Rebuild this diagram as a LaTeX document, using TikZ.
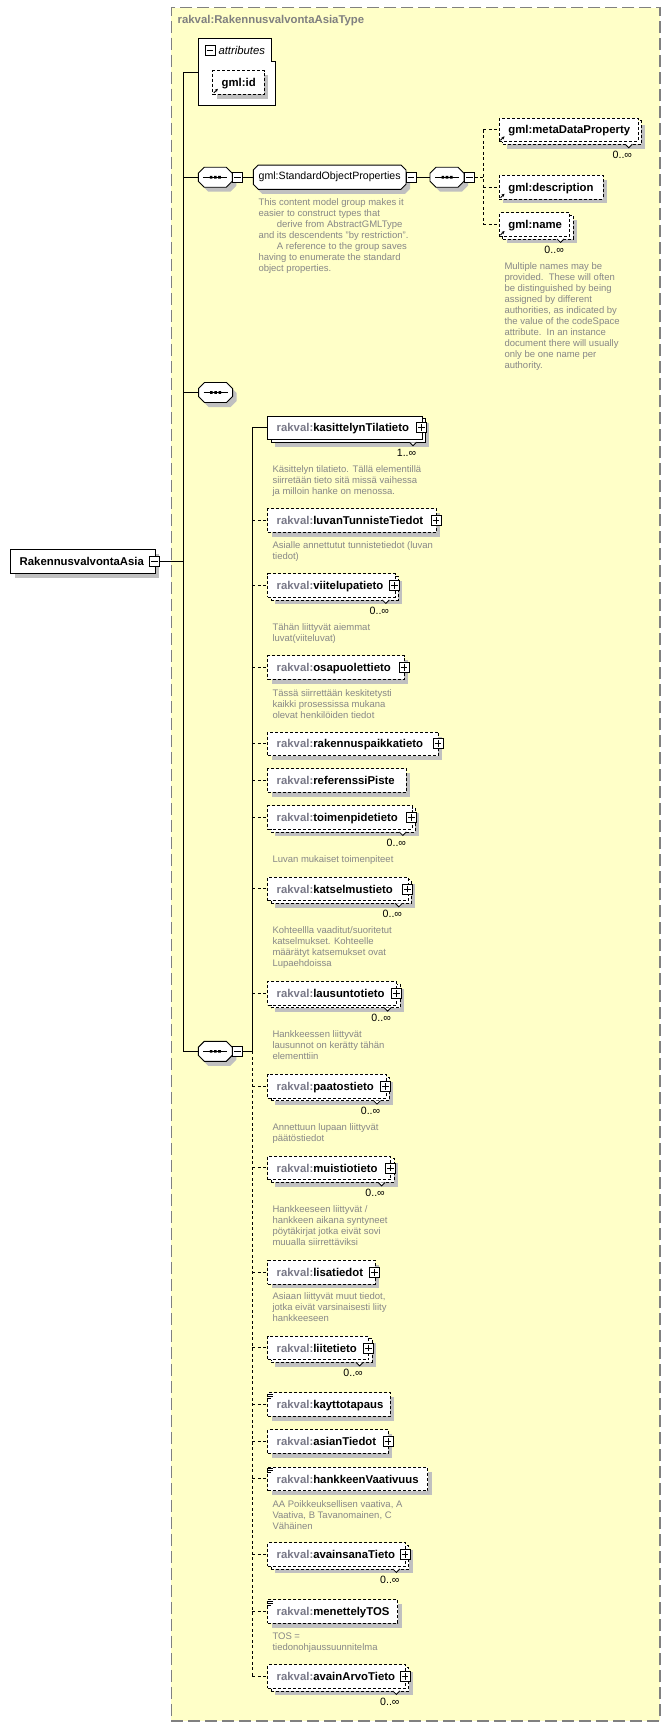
\documentclass[tikz,border=0pt]{standalone}
\usepackage{fontspec}
\setmainfont{Liberation Sans}
\usetikzlibrary{shadows,arrows.meta}
\definecolor{ybg}{RGB}{255,255,200}
\definecolor{bordg}{RGB}{128,128,128}
\definecolor{pfx}{RGB}{120,120,135}
\definecolor{anng}{RGB}{135,135,135}
\definecolor{shadowc}{RGB}{192,192,192}
\newcommand\elfont{\fontsize{11.35}{13}\selectfont\bfseries}
\newcommand\annfont{\fontsize{9.5}{11}\selectfont}
\newcommand\rk{\textcolor{pfx}{rakval:}}
\tikzset{
 box/.style={draw=black, line width=0.9pt, fill=white, inner sep=0pt, minimum height=23.5pt, anchor=west},
 req/.style={solid},
 opt/.style={dash pattern=on 3pt off 2pt},
 shd/.style={general shadow={fill=shadowc, shadow xshift=4pt, shadow yshift=-4.5pt}},
 eltext/.style={anchor=base west, inner sep=0pt, font=\elfont},
 multt/.style={anchor=base east, inner sep=0pt, font=\fontsize{10.6}{12}\selectfont},
 ann/.style={anchor=north west, inner sep=0pt, align=left, font=\annfont, text=anng},
 pmbox/.style={draw=black, fill=white, line width=0.8pt, minimum size=10pt, inner sep=0pt},
 pmline/.style={line width=0.8pt},
 conn/.style={line width=0.9pt},
 cdash/.style={dash pattern=on 3pt off 2.5pt},
 anch/.style={draw=none, inner sep=0pt},
}
\newcommand\elem[6]{%
 \node[box,shd,#5,minimum width={#4-#2}] (#1) at (#2,#3) {};
 \node[eltext] (#1-t) at (#2+9.2,#3+4.1) {#6};}
\newcommand\melem[7]{%
 \node[box,shd,#5,minimum width={#4-#2}] (#1-b) at (#2+3.3,#3+2.7) {};
 \draw[line width=0.8pt,fill=white] (#4-12.2,#3+14.45) -- ++(3.5,3.5) -- ++(3.5,-3.5);
 \node[box,#5,minimum width={#4-#2}] (#1) at (#2,#3) {};
 \node[eltext] (#1-t) at (#2+9.2,#3+4.1) {#6};
 \node[multt] (#1-m) at (#4-5.3,#3+28.5) {#7};}
\newcommand\plusb[3]{\node[pmbox] (#1) at (#2,#3) {};
 \draw[pmline] ([xshift=2pt]#1.west) -- ([xshift=-2pt]#1.east) ([yshift=-2pt]#1.north) -- ([yshift=2pt]#1.south);}
\newcommand\minusb[3]{\node[pmbox] (#1) at (#2,#3) {};
 \draw[pmline] ([xshift=2pt]#1.west) -- ([xshift=-2pt]#1.east);}
\newcommand\ann[4]{\node[ann] (#1) at (#2,#3-3.7) {\rule{0pt}{7.2pt}#4};}
\newcommand\simpico[2]{\draw[line width=0.8pt] (#1,#2+1.2) -- ++(5.5,0) (#1,#2+3.2) -- ++(5.5,0) (#1,#2+5.2) -- ++(4,0);}
\newcommand\refarr[2]{\draw[line width=0.9pt,-{Stealth[length=3pt,width=3pt]}] (#1+1.5,#2-1.2) -- (#1+5.5,#2-5.2);}
\newcommand\octdraw[6]{\path[#6] (#1-#3+#5,#2-#4) -- (#1+#3-#5,#2-#4) -- (#1+#3,#2-#4+#5) -- (#1+#3,#2+#4-#5) -- (#1+#3-#5,#2+#4) -- (#1-#3+#5,#2+#4) -- (#1-#3,#2+#4-#5) -- (#1-#3,#2-#4+#5) -- cycle;}
\newcommand\seqn[3]{%
 \octdraw{#2}{#3}{17}{10}{6}{fill=shadowc, shift={(4,4.5)}}%
 \octdraw{#2}{#3}{17}{10}{6}{draw, fill=white, line width=0.9pt}%
 \node[anch, minimum width=34pt, minimum height=20pt] (#1) at (#2,#3) {};%
 \draw[line width=0.9pt] (#2-12,#3) -- (#2+12,#3);%
 \fill (#2-5.5,#3-1.3) rectangle ++(2.6,2.6) (#2-1.3,#3-1.3) rectangle ++(2.6,2.6) (#2+2.9,#3-1.3) rectangle ++(2.6,2.6);}
\begin{document}
\begin{tikzpicture}[x=1pt,y=-1pt]
\fill[white] (0,0) rectangle (669,1726);
\useasboundingbox (0,0) rectangle (669,1726);
\node[draw=bordg, fill=ybg, line width=1.5pt, dash pattern=on 12pt off 5pt, minimum width=488.5pt, minimum height=1713pt, anchor=north west, inner sep=0pt] (ctype) at (170.5,7) {};
\node[anchor=base west, inner sep=0pt, font=\elfont, text=bordg] (ttl) at (177.5,24) {rakval:RakennusvalvontaAsiaType};
% attributes
\node[anch, minimum width=77pt, minimum height=66.7pt, anchor=north west] (attrs) at (198.3,38.3) {};
\draw[line width=0.9pt, fill=white] (198.3,38.3) -- (271.7,38.3) -- (271.7,61.7) -- (275.3,61.7) -- (275.3,105) -- (198.3,105) -- cycle;
\minusb{attrs-m}{210}{50.7}
\node[anchor=base west, inner sep=0pt, font=\fontsize{11.3}{13}\selectfont\itshape] (attrs-t) at (218.3,54.5) {attributes};
\elem{gid}{212.3}{82.3}{264}{opt}{gml:id}
\refarr{212.3}{94.05}
% main line
\coordinate (mtop) at (183.3,72.7);
\coordinate (mbot) at (183.3,1051.3);
\draw[conn] (mtop) -- (mbot);
\draw[conn] (mtop) -- (mtop -| attrs.west);
% seq1 and group
\seqn{seq1}{215.3}{177.2}
\minusb{seq1-m}{237.5}{177.2}
\draw[conn] (mbot |- seq1.west) -- (seq1.west);
\octdraw{329.65}{177.2}{76.35}{12.15}{5}{fill=shadowc, shift={(4,4.5)}}
\octdraw{329.65}{177.2}{76.35}{12.15}{5}{draw, fill=white, line width=0.9pt}
\node[anch, minimum width=152.7pt, minimum height=24.3pt, font=\fontsize{10.6}{12}\selectfont] (sop) at (329.65,177.2) {gml:StandardObjectProperties};
\minusb{sop-m}{411}{177.2}
\draw[conn] (seq1-m.east) -- (sop.west);
\seqn{seq2}{447}{177.2}
\minusb{seq2-m}{469.5}{177.2}
\draw[conn] (sop-m.east) -- (seq2.west);
% gml children
\coordinate (gvtop) at (483.3,129.8);
\coordinate (gvbot) at (483.3,224.5);
\draw[conn,cdash] (gvtop) -- (gvbot);
\draw[conn,cdash] (seq2-m.east) -- (seq2-m.east -| gvtop);
\melem{meta}{499}{129.8}{637.5}{opt}{gml:metaDataProperty}{0..∞}
\refarr{499}{141.55}
\elem{desc}{499}{187.2}{602.5}{opt}{gml:description}
\refarr{499}{198.95}
\melem{gname}{499}{224.5}{569.3}{opt}{gml:name}{0..∞}
\refarr{499}{236.25}
\draw[conn,cdash] (gvtop) -- (meta.west);
\draw[conn,cdash] (gvtop |- desc.west) -- (desc.west);
\draw[conn,cdash] (gvbot) -- (gname.west);
\ann{sop-a}{258.3}{201.7}{This content model group makes it\\easier to construct types that\\\hspace*{18.4pt}derive from AbstractGMLType\\and its descendents "by restriction".\\\hspace*{18.4pt}A reference to the group saves\\having to enumerate the standard\\object properties.}
\ann{gname-a}{504.3}{266}{Multiple names may be\\provided.\ \ These will often\\be distinguished by being\\assigned by different\\authorities, as indicated by\\the value of the codeSpace\\attribute.\ \ In an instance\\document there will usually\\only be one name per\\authority.}
% seq3
\seqn{seq3}{215.6}{392.5}
\draw[conn] (mbot |- seq3.west) -- (seq3.west);
% root
\elem{root}{10.3}{561.3}{155}{req}{RakennusvalvontaAsia}
\minusb{root-m}{154.5}{561.3}
\draw[conn] (root-m.east) -- (root-m.east -| mbot);
% seq4 and bus
\seqn{seq4}{215.3}{1051.3}
\minusb{seq4-m}{237.5}{1051.3}
\draw[conn] (mbot) -- (seq4.west);
\coordinate (btop) at (252.3,427.8);
\coordinate (bmid) at (252.3,1051.3);
\coordinate (bbot) at (252.3,1676.5);
\draw[conn] (btop) -- (bmid);
\draw[conn,cdash] (bmid) -- (bbot);
\draw[conn] (seq4-m.east) -- (bmid);
% children
\melem{kasit}{267.3}{427.8}{421.7}{req}{\rk kasittelynTilatieto}{1..∞}
\plusb{kasit-p}{421.7}{427.8}
\elem{luvan}{267.3}{520.5}{436}{opt}{\rk luvanTunnisteTiedot}
\plusb{luvan-p}{436}{520.5}
\melem{viite}{267.3}{585.5}{394.5}{opt}{\rk viitelupatieto}{0..∞}
\plusb{viite-p}{394.5}{585.5}
\elem{osap}{267.3}{667.5}{404}{opt}{\rk osapuolettieto}
\plusb{osap-p}{404}{667.5}
\elem{rakp}{267.3}{743.8}{438}{opt}{\rk rakennuspaikkatieto}
\plusb{rakp-p}{438}{743.8}
\elem{refp}{267.3}{780.5}{406}{opt}{\rk referenssiPiste}
\melem{toim}{267.3}{817.5}{411.5}{opt}{\rk toimenpidetieto}{0..∞}
\plusb{toim-p}{411.5}{817.5}
\melem{kats}{267.3}{888.9}{407.5}{opt}{\rk katselmustieto}{0..∞}
\plusb{kats-p}{407.5}{888.9}
\melem{laus}{267.3}{993.2}{396.3}{opt}{\rk lausuntotieto}{0..∞}
\plusb{laus-p}{396.3}{993.2}
\melem{paat}{267.3}{1086.2}{385.7}{opt}{\rk paatostieto}{0..∞}
\plusb{paat-p}{385.7}{1086.2}
\melem{muist}{267.3}{1167.9}{390.3}{opt}{\rk muistiotieto}{0..∞}
\plusb{muist-p}{390.3}{1167.9}
\elem{lisa}{267.3}{1272.2}{374.5}{opt}{\rk lisatiedot}
\plusb{lisa-p}{374.5}{1272.2}
\melem{liite}{267.3}{1347.9}{368.3}{opt}{\rk liitetieto}{0..∞}
\plusb{liite-p}{368.3}{1347.9}
\elem{kaytt}{267.3}{1404.5}{390}{opt}{\rk kayttotapaus}
\simpico{267.3}{1392.75}
\elem{asian}{267.3}{1441.5}{388}{opt}{\rk asianTiedot}
\plusb{asian-p}{388}{1441.5}
\elem{hankk}{267.3}{1478.9}{427.3}{opt}{\rk hankkeenVaativuus}
\simpico{267.3}{1467.15}
\melem{avains}{267.3}{1554.5}{405}{opt}{\rk avainsanaTieto}{0..∞}
\plusb{avains-p}{405}{1554.5}
\elem{menet}{267.3}{1611.5}{397.3}{opt}{\rk menettelyTOS}
\simpico{267.3}{1599.75}
\melem{avainA}{267.3}{1676.5}{405}{opt}{\rk avainArvoTieto}{0..∞}
\plusb{avainA-p}{405}{1676.5}
\draw[conn] (btop) -- (kasit.west);
\foreach \n in {luvan,viite,osap,rakp,refp,toim,kats,laus,paat,muist,lisa,liite,kaytt,asian,hankk,avains,menet,avainA}
  \draw[conn,cdash] (bmid |- \n.west) -- (\n.west);
% annotations
\ann{kasit-a}{272.3}{468.7}{Käsittelyn tilatieto. Tällä elementillä\\siirretään tieto sitä missä vaihessa\\ja milloin hanke on menossa.}
\ann{luvan-a}{272.3}{544.3}{Asialle annettutut tunnistetiedot (luvan\\tiedot)}
\ann{viite-a}{272.3}{626.7}{Tähän liittyvät aiemmat\\luvat(viiteluvat)}
\ann{osap-a}{272.3}{692.3}{Tässä siirrettään keskitetysti\\kaikki prosessissa mukana\\olevat henkilöiden tiedot}
\ann{toim-a}{272.3}{859}{Luvan mukaiset toimenpiteet}
\ann{kats-a}{272.3}{929.3}{Kohteellla vaaditut/suoritetut\\katselmukset. Kohteelle\\määrätyt katsemukset ovat\\Lupaehdoissa}
\ann{laus-a}{272.3}{1033.7}{Hankkeessen liittyvät\\lausunnot on kerätty tähän\\elementtiin}
\ann{paat-a}{272.3}{1126.7}{Annettuun lupaan liittyvät\\päätöstiedot}
\ann{muist-a}{272.3}{1208.3}{Hankkeeseen liittyvät /\\hankkeen aikana syntyneet\\pöytäkirjat jotka eivät sovi\\muualla siirrettäviksi}
\ann{lisa-a}{272.3}{1296}{Asiaan liittyvät muut tiedot,\\jotka eivät varsinaisesti liity\\hankkeeseen}
\ann{hankk-a}{272.3}{1503.3}{AA Poikkeuksellisen vaativa, A\\Vaativa, B Tavanomainen, C\\Vähäinen}
\ann{menet-a}{272.3}{1635.7}{TOS =\\tiedonohjaussuunnitelma}
\end{tikzpicture}
\end{document}
